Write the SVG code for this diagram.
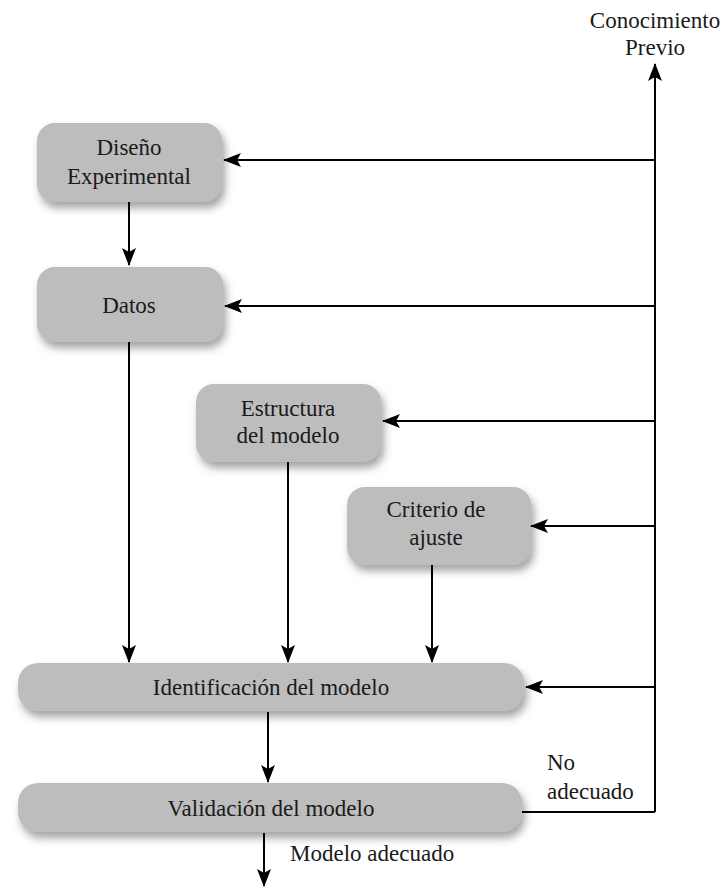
<svg xmlns="http://www.w3.org/2000/svg" width="724" height="887" viewBox="0 0 724 887">
<defs>
<filter id="sh" x="-10%" y="-20%" width="125%" height="160%">
<feDropShadow dx="3" dy="6" stdDeviation="4" flood-color="#666" flood-opacity="0.6"/>
</filter>
<marker id="ah" viewBox="0 0 18 14" refX="17" refY="7" markerWidth="18" markerHeight="14" markerUnits="userSpaceOnUse" orient="auto">
<path d="M0,0 L18,7 L0,14 L4,7 Z" fill="#000"/>
</marker>
</defs>
<style>
.box{fill:#bdbdbd;filter:url(#sh)}
.t{font-family:"Liberation Serif",serif;font-size:23px;fill:#1a1a1a;text-anchor:middle}
.l{font-family:"Liberation Serif",serif;font-size:23px;fill:#1a1a1a}
.c{stroke:#000;stroke-width:2;fill:none}
.a{stroke:#000;stroke-width:2;fill:none;marker-end:url(#ah)}
</style>
<rect width="724" height="887" fill="#fff"/>
<g id="disenio">
<rect class="box" x="37" y="123" width="185" height="79" rx="18"/>
<text class="t" x="129" y="155">Diseño</text>
<text class="t" x="129" y="184">Experimental</text>
</g>
<g id="datos">
<rect class="box" x="37" y="267" width="186" height="75" rx="18"/>
<text class="t" x="129" y="313">Datos</text>
</g>
<g id="estructura">
<rect class="box" x="196" y="384" width="185" height="78" rx="18"/>
<text class="t" x="288" y="416">Estructura</text>
<text class="t" x="288" y="443">del modelo</text>
</g>
<g id="criterio">
<rect class="box" x="347" y="487" width="184" height="78" rx="18"/>
<text class="t" x="436" y="517">Criterio de</text>
<text class="t" x="436" y="545">ajuste</text>
</g>
<g id="identificacion">
<rect class="box" x="18" y="663" width="506" height="48" rx="20"/>
<text class="t" x="271" y="695">Identificación del modelo</text>
</g>
<g id="validacion">
<rect class="box" x="18" y="783" width="504" height="49" rx="20"/>
<text class="t" x="271" y="816">Validación del modelo</text>
</g>
<g id="conocimiento">
<text class="t" x="655" y="28">Conocimiento</text>
<text class="t" x="655" y="55">Previo</text>
</g>
<g id="connectors">
<path class="a" d="M655,812 V64"/>
<path class="c" d="M522,812 H655"/>
<path class="a" d="M655,160 H224"/>
<path class="a" d="M655,306 H225"/>
<path class="a" d="M655,421 H383"/>
<path class="a" d="M655,526 H531"/>
<path class="a" d="M655,687 H526"/>
<path class="a" d="M129,202 V265"/>
<path class="a" d="M129,342 V662"/>
<path class="a" d="M288,462 V662"/>
<path class="a" d="M432,565 V662"/>
<path class="a" d="M268,712 V782"/>
<path class="a" d="M264,833 V886"/>
</g>
<text class="l" x="547" y="770">No</text>
<text class="l" x="547" y="799">adecuado</text>
<text class="l" x="290" y="861">Modelo adecuado</text>
</svg>
